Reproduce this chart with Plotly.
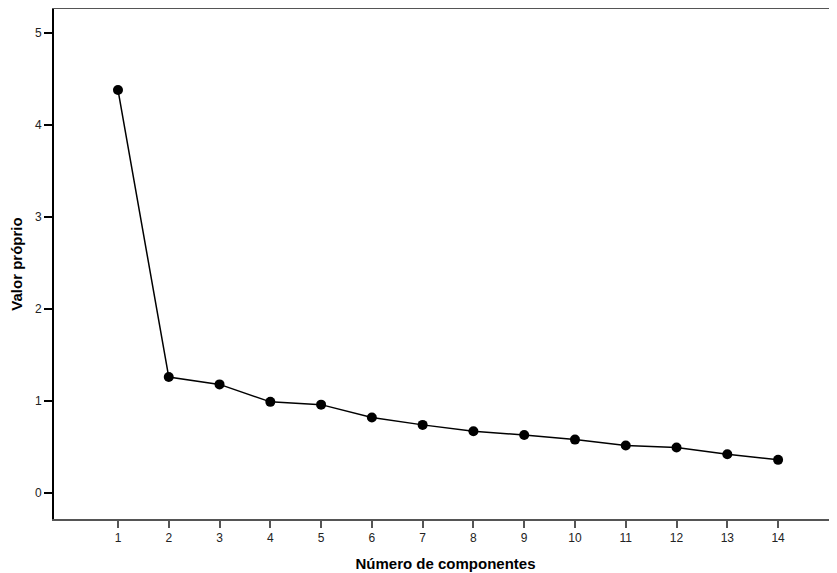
import plotly.graph_objects as go

components = list(range(1, 15))
eigenvalues = [4.38, 1.26, 1.18, 0.99, 0.96, 0.82, 0.74, 0.67, 0.63, 0.58, 0.515, 0.495, 0.42, 0.36]
x_ticks = list(range(1, 15))
y_ticks = [0, 1, 2, 3, 4, 5]

fig = go.Figure()
fig.add_trace(go.Scatter(
    x=components, y=eigenvalues, mode="lines+markers",
    line=dict(color="black", width=1.5),
    marker=dict(color="black", size=10),
    showlegend=False,
))

# page body has an 8px margin, so the figure is sized/offset accordingly
fig.update_layout(
    width=829, height=565,
    margin=dict(l=46, r=0, t=1, b=54, autoexpand=False),
    paper_bgcolor="white", plot_bgcolor="white",
    font=dict(family="Liberation Sans, Arial", color="black"),
)
fig.update_xaxes(
    range=[-0.26, 15.16], tickvals=x_ticks, ticktext=[str(v) for v in x_ticks],
    showgrid=False, zeroline=False,
    showline=True, linecolor="#555555", linewidth=2, mirror=True,
    ticks="outside", ticklen=7, tickcolor="#555555", tickwidth=2,
    tickfont=dict(size=12, color="#222222"),
    title=dict(text="<b>Número de componentes</b>", font=dict(size=15, color="black"), standoff=14),
)
fig.update_yaxes(
    range=[-0.283, 5.26], tickvals=y_ticks, ticktext=[str(v) for v in y_ticks],
    showgrid=False, zeroline=False,
    showline=True, linecolor="black", linewidth=2, mirror=False,
    ticks="outside", ticklen=8, tickcolor="black", tickwidth=1.5,
    tickfont=dict(size=12, color="#222222"),
    title=dict(text="<b>Valor próprio</b>", font=dict(size=15, color="black"), standoff=14),
)

fig.write_html("out.html")
